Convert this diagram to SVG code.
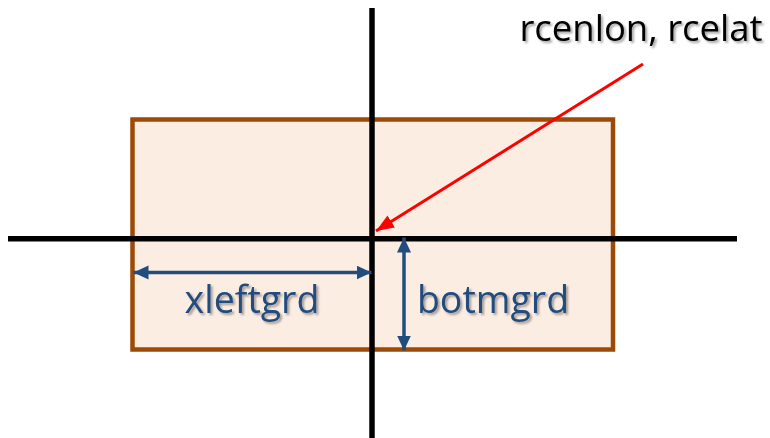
<svg xmlns="http://www.w3.org/2000/svg" width="770" height="438" viewBox="0 0 770 438">
  <style>
    .axis { stroke: #000000; stroke-width: 5.5; fill: none; }
    .grid { fill: #FCEDE3; stroke: #9C4A06; stroke-width: 4.5; }
    .dim { stroke: #234C7E; stroke-width: 3.5; fill: none; }
    .lbl { font-family: "Open Sans", "Liberation Sans", sans-serif; filter: url(#shadow); }
    .blue { fill: #234C7E; }
  </style>
  <defs>
    <filter id="shadow" x="-10%" y="-20%" width="130%" height="150%">
      <feDropShadow dx="2" dy="2" stdDeviation="1.2" flood-color="#000000" flood-opacity="0.35"/>
    </filter>
    <marker id="redHead" markerUnits="userSpaceOnUse" markerWidth="20" markerHeight="16" refX="18" refY="7" orient="auto">
      <path d="M0,0 L18,7 L0,14 Z" fill="#FF0000"/>
    </marker>
    <marker id="blueHead" markerUnits="userSpaceOnUse" markerWidth="18" markerHeight="16" refX="15" refY="7" orient="auto-start-reverse">
      <path d="M0,0 L15,7 L0,14 Z" fill="#234C7E"/>
    </marker>
  </defs>

  <g id="grid-box">
    <rect class="grid" x="132.5" y="119.5" width="480.5" height="230"/>
  </g>

  <g id="axes">
    <line class="axis" x1="372" y1="8" x2="372" y2="438"/>
    <line class="axis" x1="8" y1="238.8" x2="737" y2="238.8"/>
  </g>

  <g id="connectors">
    <line x1="643" y1="64" x2="376" y2="231" stroke="#FF0000" stroke-width="3" marker-end="url(#redHead)"/>
    <line class="dim" x1="133.5" y1="272.5" x2="371.5" y2="272.5" marker-start="url(#blueHead)" marker-end="url(#blueHead)"/>
    <line class="dim" x1="404" y1="237.5" x2="404" y2="350.5" marker-start="url(#blueHead)" marker-end="url(#blueHead)"/>
  </g>

  <g id="label-center">
    <text class="lbl" x="641" y="41" font-size="36.5" text-anchor="middle" fill="#000000">rcenlon, rcelat</text>
  </g>
  <g id="label-xleftgrd">
    <text class="lbl blue" x="252" y="313" font-size="37.5" text-anchor="middle">xleftgrd</text>
  </g>
  <g id="label-botmgrd">
    <text class="lbl blue" x="493" y="313" font-size="37.5" text-anchor="middle">botmgrd</text>
  </g>
</svg>
